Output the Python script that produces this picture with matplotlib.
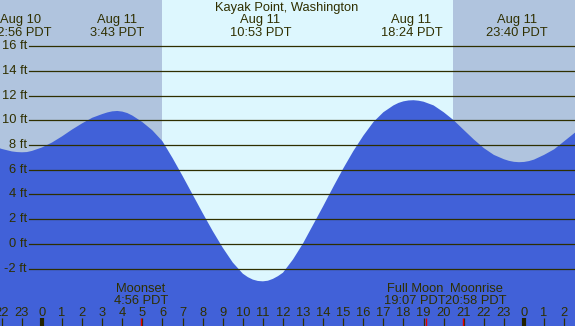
import matplotlib
matplotlib.use("Agg")
import matplotlib.pyplot as plt
from matplotlib.transforms import blended_transform_factory

plt.rcParams['font.family'] = ['Liberation Sans', 'DejaVu Sans']

# ---- data (hours relative to Aug 11 00:00 PDT, heights in ft) ----
curve_hours = [-2.5, -2.0, -1.5, -1.25, -1.0, -0.75, -0.5, 0.0, 0.5, 1.0, 1.5, 2.0, 2.5, 3.0,
               3.25, 3.5, 3.75, 4.0, 4.25, 4.5, 5.0, 5.5, 6.0, 6.5, 7.0, 7.5, 8.0, 8.5,
               9.0, 9.5, 10.0, 10.25, 10.5, 10.75, 11.0, 11.25, 11.5, 11.75, 12.0, 12.5,
               13.0, 13.5, 14.0, 14.5, 15.0, 15.5, 16.0, 16.5, 17.0, 17.5, 17.75, 18.0,
               18.25, 18.5, 18.75, 19.0, 19.5, 20.0, 20.5, 21.0, 21.5, 22.0, 22.5, 23.0,
               23.25, 23.5, 23.75, 24.0, 24.25, 24.5, 25.0, 25.5, 26.0, 26.5, 27.0]
curve_heights = [7.95, 7.68, 7.48, 7.43, 7.41, 7.43, 7.52, 7.80, 8.20, 8.70, 9.25, 9.75, 10.20, 10.50,
                 10.63, 10.72, 10.75, 10.70, 10.58, 10.38, 9.85, 9.18, 8.30, 6.95, 5.50, 4.00, 2.50, 1.05,
                 -0.30, -1.50, -2.40, -2.68, -2.88, -2.99, -3.02, -2.97, -2.82, -2.60, -2.32, -1.25,
                 0.05, 1.55, 3.05, 4.60, 6.10, 7.50, 8.75, 9.85, 10.65, 11.20, 11.40, 11.53,
                 11.60, 11.62, 11.58, 11.50, 11.20, 10.65, 10.00, 9.22, 8.45, 7.75, 7.20, 6.85,
                 6.72, 6.64, 6.61, 6.63, 6.70, 6.82, 7.20, 7.65, 8.30, 8.95, 9.60]

extreme_hours = [-1.067, 3.717, 10.883, 18.4, 23.667]
extreme_dates = ["Aug 10", "Aug 11", "Aug 11", "Aug 11", "Aug 11"]
extreme_labels = ["22:56 PDT", "3:43 PDT", "10:53 PDT", "18:24 PDT", "23:40 PDT"]

sunrise_hour = 5.98
sunset_hour = 20.47

moon_hours = [4.933, 19.117, 20.967]
moon_names = ["Moonset", "Full Moon", "Moonrise"]
moon_labels = ["4:56 PDT", "19:07 PDT", "20:58 PDT"]
moon_label_shift = [0.0, -0.55, 0.65]   # label offsets (hours) to avoid overlap

grid_levels = [-2, 0, 2, 4, 6, 8, 10, 12, 14, 16]
grid_labels = ["-2 ft", "0 ft", "2 ft", "4 ft", "6 ft", "8 ft", "10 ft", "12 ft", "14 ft", "16 ft"]

hour_ticks = list(range(-2, 27))
hour_tick_labels = [str(h % 24) for h in hour_ticks]

title = "Kayak Point, Washington"

# ---- style ----
W, H = 575, 326
night_col = '#b0c4de'
day_col = '#ddf7fe'
water_col = '#4161d8'
ink = '#2f2f00'
fs = 9.3
x0, x1 = -2.09, 26.54
y0, y1 = -6.63, 19.72

fig = plt.figure(figsize=(W / 100, H / 100), dpi=100)
ax = fig.add_axes([0, 0, 1, 1])
ax.set_xlim(x0, x1)
ax.set_ylim(y0, y1)
ax.axis('off')

ax.axvspan(x0, x1, color=night_col, lw=0, zorder=0)
ax.axvspan(sunrise_hour, sunset_hour, color=day_col, lw=0, zorder=1)

ax.fill_between(curve_hours, curve_heights, y0 - 1, color=water_col, lw=0, zorder=2)

for lvl, lab in zip(grid_levels, grid_labels):
    ax.axhline(lvl, xmin=29 / W, xmax=1, color=ink, lw=0.9, zorder=3)
    ax.text(27 / W, lvl, lab, transform=blended_transform_factory(ax.transAxes, ax.transData),
            ha='right', va='center', fontsize=fs, color=ink, zorder=4)

tx = blended_transform_factory(ax.transData, ax.transAxes)

def ypx(p):
    return 1 - p / H

ax.text(286.5 / W, ypx(11.5), title, transform=ax.transAxes, ha='center', va='baseline',
        fontsize=fs, color=ink, zorder=5)

for h, d, lab in zip(extreme_hours, extreme_dates, extreme_labels):
    ax.text(h, ypx(23.5), d, transform=tx, ha='center', va='baseline', fontsize=fs, color=ink, zorder=5)
    ax.text(h, ypx(35.5), lab, transform=tx, ha='center', va='baseline', fontsize=fs, color=ink, zorder=5)

for h, n, lab, s in zip(moon_hours, moon_names, moon_labels, moon_label_shift):
    ax.text(h + s, ypx(291.5), n, transform=tx, ha='center', va='baseline', fontsize=fs, color=ink, zorder=5)
    ax.text(h + s, ypx(303.5), lab, transform=tx, ha='center', va='baseline', fontsize=fs, color=ink, zorder=5)

for h, lab in zip(hour_ticks, hour_tick_labels):
    ax.text(h, ypx(316), lab, transform=tx, ha='center', va='baseline', fontsize=fs, color=ink, zorder=5)
    midnight = (h % 24 == 0)
    ax.plot([h, h], [ypx(326), ypx(318)], transform=tx, color='#222200' if midnight else ink,
            lw=3.0 if midnight else 0.9, solid_capstyle='butt', zorder=5)

for h in moon_hours:
    ax.plot([h, h], [ypx(326), ypx(318)], transform=tx, color='#e00000',
            lw=1.0, solid_capstyle='butt', zorder=6)

fig.savefig('out.png', dpi=100)
